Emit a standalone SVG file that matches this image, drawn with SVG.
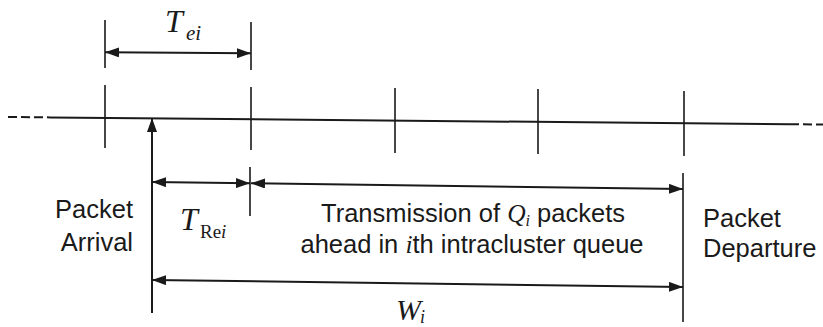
<svg xmlns="http://www.w3.org/2000/svg" width="823" height="327" viewBox="0 0 823 327">
  <style>
    .ln { stroke: #1a1a1a; stroke-width: 2; fill: none; }
    .tk { stroke: #1a1a1a; stroke-width: 1.6; fill: none; }
    .dash { stroke-dasharray: 9 4; }
    .arr { marker-start: url(#ah); marker-end: url(#ah); }
    .sans { font-family: "Liberation Sans", Arial, sans-serif; font-size: 25.5px; fill: #1a1a1a; }
    .ser { font-family: "Liberation Serif", "Times New Roman", serif; fill: #1a1a1a; }
    .it { font-style: italic; }
  </style>
  <defs>
    <marker id="ah" viewBox="0 0 14 10" refX="14" refY="5" markerWidth="14" markerHeight="10" markerUnits="userSpaceOnUse" orient="auto-start-reverse">
      <path d="M0,0 L14,5 L0,10 z" fill="#1a1a1a"/>
    </marker>
  </defs>

  <g id="timeline">
    <line class="ln dash" x1="8" y1="117" x2="50" y2="117.4"/>
    <line class="ln" x1="50" y1="117.4" x2="790" y2="124.2"/>
    <line class="ln dash" x1="790" y1="124.2" x2="823" y2="124.5"/>
  </g>

  <g id="ticks">
    <line class="tk" x1="105" y1="20" x2="105" y2="68"/>
    <line class="tk" x1="251" y1="22" x2="251" y2="70"/>
    <line class="tk" x1="105" y1="85" x2="105" y2="148"/>
    <line class="tk" x1="251" y1="87" x2="251" y2="150"/>
    <line class="tk" x1="250" y1="167" x2="250" y2="216"/>
    <line class="tk" x1="395" y1="88" x2="395" y2="153"/>
    <line class="tk" x1="538" y1="89" x2="538" y2="154"/>
    <line class="tk" x1="684" y1="91" x2="684" y2="156"/>
    <line class="tk" x1="683" y1="173" x2="683" y2="322"/>
  </g>

  <g id="connectors">
    <line class="ln arr" x1="105" y1="52.3" x2="251" y2="53.3"/>
    <line class="ln" x1="152" y1="313" x2="152" y2="118" marker-end="url(#ah)"/>
    <line class="ln arr" x1="152" y1="182" x2="250" y2="183.3"/>
    <line class="ln arr" x1="251" y1="183.3" x2="683" y2="189"/>
    <line class="ln arr" x1="152" y1="280" x2="683" y2="287"/>
  </g>

  <g id="label-tei">
    <text class="ser it" x="165" y="32" font-size="32">T</text>
    <text class="ser it" x="186" y="40" font-size="21">ei</text>
  </g>

  <g id="label-trei">
    <text class="ser it" x="180" y="230" font-size="32">T</text>
    <text class="ser" x="200" y="238" font-size="19">Re<tspan class="it">i</tspan></text>
  </g>

  <g id="label-wi">
    <text class="ser it" x="396" y="320" font-size="30">W</text>
    <text class="ser it" x="420" y="323" font-size="18">i</text>
  </g>

  <g id="arrival">
    <text class="sans" x="133" y="218" text-anchor="end">Packet</text>
    <text class="sans" x="133" y="251" text-anchor="end">Arrival</text>
  </g>

  <g id="transmission">
    <text class="sans" x="473" y="222" text-anchor="middle">Transmission of <tspan class="ser it">Q</tspan><tspan class="ser it" font-size="16" dy="4">i</tspan><tspan dy="-4"> packets</tspan></text>
    <text class="sans" x="472" y="253" text-anchor="middle">ahead in <tspan class="ser it">i</tspan>th intracluster queue</text>
  </g>

  <g id="departure">
    <text class="sans" x="703" y="227">Packet</text>
    <text class="sans" x="703" y="257">Departure</text>
  </g>
</svg>
